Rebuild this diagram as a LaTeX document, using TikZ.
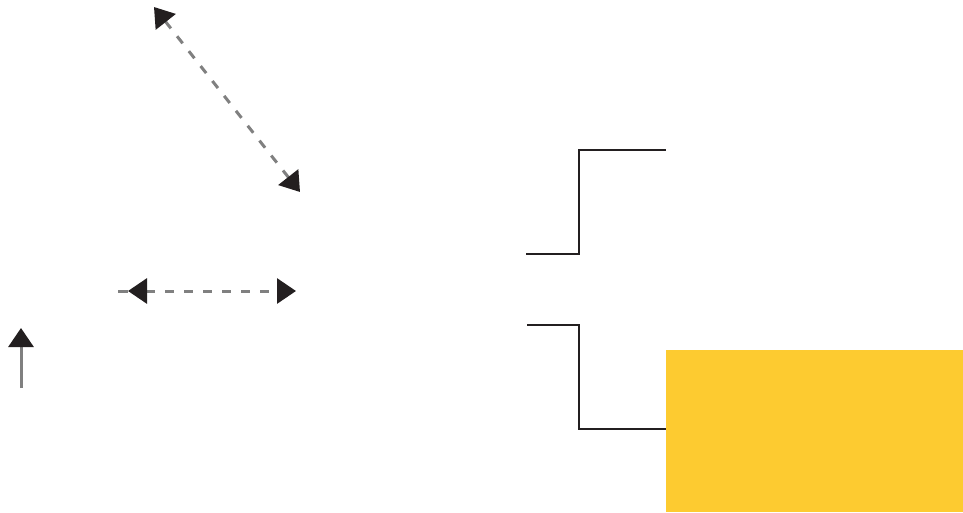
\documentclass[tikz,border=0pt]{standalone}
\usetikzlibrary{arrows.meta}
\definecolor{ink}{HTML}{231F20}
\definecolor{dashgray}{HTML}{808080}
\definecolor{boxyellow}{HTML}{FDCB30}
\tikzset{
  tipbig/.tip={Triangle[length=19pt,width=25pt,color=ink,fill=ink]},
  graydash/.style={draw=dashgray,line width=3pt,dash pattern=on 9pt off 10pt},
  grayline/.style={draw=dashgray,line width=3pt},
  stepline/.style={draw=ink,line width=2.8pt,line cap=butt,line join=miter},
}
\begin{document}
\begin{tikzpicture}[x=1pt,y=-1pt]
\useasboundingbox (0,0) rectangle (963,512);
% yellow box
\fill[boxyellow] (666,350) rectangle (963,512);
% diagonal dashed double arrow
\coordinate (d1) at (154,7);
\coordinate (d2) at (300,192);
\draw[graydash,tipbig-tipbig] (d1) -- (d2);
% horizontal dashed double arrow
\coordinate (h0) at (118,291);
\coordinate (h1) at (128,291);
\coordinate (h2) at (296,291);
\draw[grayline] (h0) -- (h1);
\draw[graydash,tipbig-tipbig] (h1) -- (h2);
% up arrow
\coordinate (u1) at (21,388);
\coordinate (u2) at (21,328);
\draw[grayline,-tipbig] (u1) -- (u2);
% step lines
\coordinate (s1) at (526,254);
\coordinate (s2) at (579,254);
\coordinate (s3) at (579,150);
\coordinate (s4) at (666,150);
\draw[stepline] (s1) -- (s2) -- (s3) -- (s4);
\coordinate (t1) at (527,325);
\coordinate (t2) at (579,325);
\coordinate (t3) at (579,429);
\coordinate (t4) at (666,429);
\draw[stepline] (t1) -- (t2) -- (t3) -- (t4);
\end{tikzpicture}
\end{document}
